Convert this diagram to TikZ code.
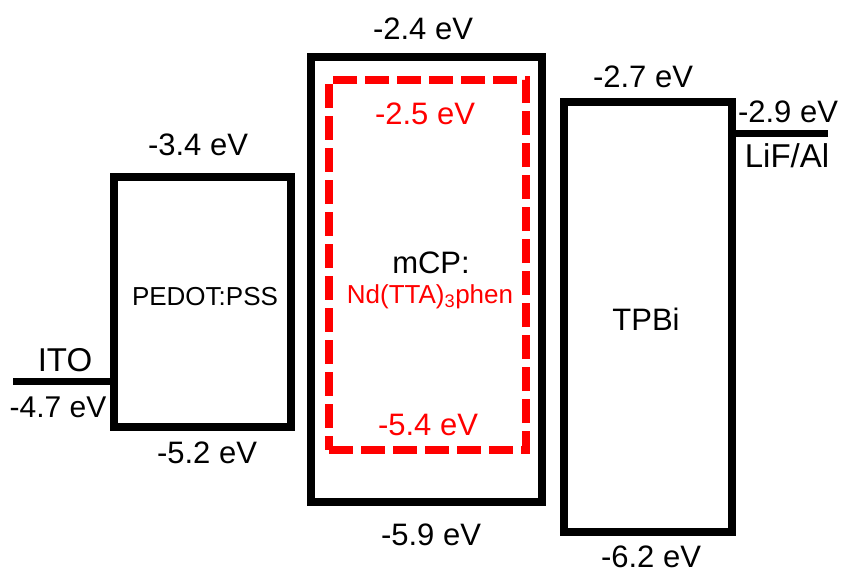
\documentclass[tikz,border=0pt]{standalone}
\usepackage{fontspec}
\setmainfont{Liberation Sans}
\usepackage{xcolor}
\usepackage{tikz}

\begin{document}
\begin{tikzpicture}[
        x=1pt, y=-1pt,
        band/.style={draw, line width=8pt, minimum width=#1, inner sep=0pt},
        dopant/.style={draw=red, line width=7.5pt, dash pattern=on 24pt off 8pt, inner sep=0pt},
        lab/.style={anchor=base, inner sep=0pt, font=\fontsize{31}{36}\selectfont},
        redlab/.style={lab, text=red}
    ]
    \useasboundingbox (0,0) rectangle (843,573);
    % energy boxes
    \node[band=177.5pt, minimum height=250pt] (pedot) at (202.25,302) {};
    \node[band=231pt, minimum height=445pt] (mcp) at (426.5,279.5) {};
    \node[dopant, minimum width=197pt, minimum height=370pt] (nd) at (427.5,265) {};
    \node[band=168pt, minimum height=430pt] (tpbi) at (648,317) {};
    % electrodes
    \coordinate (ito) at (13,381.5);
    \coordinate (lif) at (828,133);
    \draw[line width=7pt] (ito) -- (ito -| pedot.west);
    \draw[line width=7pt] (lif) -- (lif -| tpbi.east);
    % labels
    \node[lab, font=\fontsize{33}{38}\selectfont] (itolab) at (65,371) {ITO};
    \node[lab, font=\fontsize{30}{36}\selectfont] (itoe) at (58,417) {-4.7 eV};
    \node[lab] (pedotup) at (198,155) {-3.4 eV};
    \node[lab] (pedotdn) at (207,463) {-5.2 eV};
    \node[lab, font=\fontsize{26}{30}\selectfont] (pedotlab) at (205,305) {PEDOT:PSS};
    \node[lab] (mcpup) at (423,39) {-2.4 eV};
    \node[lab] (mcpdn) at (431,545) {-5.9 eV};
    \node[redlab] (ndup) at (425,124) {-2.5 eV};
    \node[redlab] (nddn) at (428,435) {-5.4 eV};
    \node[lab, font=\fontsize{31}{36}\selectfont] (mcplab) at (431,273) {mCP:};
    \node[redlab, font=\fontsize{26}{30}\selectfont] (ndlab) at (430,303) {Nd(TTA)\textsubscript{3}phen};
    \node[lab] (tpbiup) at (643,87) {-2.7 eV};
    \node[lab] (tpbidn) at (651,567) {-6.2 eV};
    \node[lab, font=\fontsize{31}{36}\selectfont] (tpbilab) at (646,330) {TPBi};
    \node[lab] (life) at (788,122) {-2.9 eV};
    \node[lab, font=\fontsize{33}{38}\selectfont] (liflab) at (787,167) {LiF/Al};
    \end{tikzpicture}
\end{document}
